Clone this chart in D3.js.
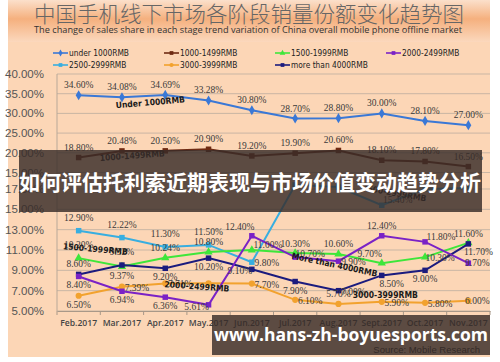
<!DOCTYPE html>
<html>
<head>
<meta charset="utf-8">
<script src="https://cdn.jsdelivr.net/npm/d3@7"></script>
<style>
  body { margin: 0; background: #fff; }
  svg { display: block; }
</style>
</head>
<body>
<svg id="chart" width="500" height="362"></svg>
<script>
"use strict";

// ---- data ----
const months = ["Feb.2017", "Mar.2017", "Apr.2017", "May.2017", "Jun.2017",
                "Jul.2017", "Aug.2017", "Sept.2017", "Oct.2017", "Nov.2017"];

const seriesNames = ["under 1000RMB", "1000-1499RMB", "1500-1999RMB", "2000-2499RMB",
                     "2500-2999RMB", "3000-3999RMB", "more than 4000RMB"];

const under1000 = [34.60, 34.08, 34.69, 33.28, 30.80, 28.70, 28.80, 30.00, 28.10, 27.00];
const p1000 = [18.80, 20.48, 20.50, 20.90, 19.20, 19.90, 20.60, 18.10, 17.80, 16.50];
const p1500 = [10.20, 9.37, 10.24, 10.80, 11.00, 10.70, 10.60, 9.70, 10.30, 11.70];
const p2000 = [8.40, 6.94, 6.36, 5.61, 12.40, 10.30, 9.90, 12.40, 11.80, 9.70];
const p2500 = [12.90, 12.22, 11.30, 11.50, 9.80, 17.40, 17.20, 15.40, 17.00, 17.10];
const p3000 = [6.50, 7.39, 7.71, 7.72, 7.70, 6.10, 5.70, 5.90, 5.80, 6.00];
const p4000 = [8.60, 9.52, 9.20, 10.20, 9.10, 7.90, 7.00, 8.50, 9.00, 11.60];

const topTicks = [40, 35, 30, 25, 20, 15];
const bottomTicks = [17, 15, 13, 11, 9, 7, 5];

// ---- styling ----
const colors = ["#3a78d6", "#6e2a12", "#3ee63a", "#7a22c6", "#38aee0", "#f2a22e", "#1b1b7e"];
const symbols = [d3.symbolDiamond, d3.symbolSquare, d3.symbolTriangle, d3.symbolSquare,
                 d3.symbolSquare, d3.symbolCircle, d3.symbolSquare];

// label placement per point (codes below), "" = hidden by the overlay
const offs = {
    a: [0, -7], A: [0, -10], b: [0, 12], r: [15, 4], l: [-12, 5],
    ru: [16, -2], rb: [10, 12], al: [-12, -6], rs: [9, 3]
};
const labelPos = [
    ["a", "a", "a", "a", "a", "a", "a", "a", "a", "a"],
    ["a", "a", "a", "a", "a", "a", "a", "a", "a", "a"],
    ["A", "b", "a", "a", "ru", "r", "a", "al", "r", "rb"],
    ["b", "b", "b", "l", "al", "A", "r", "a", "ru", "rs"],
    ["A", "A", "A", "A", "r", "", "", "ru", "", ""],
    ["b", "r", "r", "", "r", "r", "a", "r", "r", "rs"],
    ["a", "A", "b", "b", "l", "b", "r", "rb", "b", "a"]
];

// inline series names: [series, month index, dx, dy, rotate, text]
const nameTags = [
    [0, 1, -6, 11, -5, "Under 1000RMB"],
    [1, 1, -22, 10, -4, "1000-1499RMB"],
    [2, 0, -16, -9, 5, "1500-1999RMB"],
    [3, 2, -1, -10, 4, "2000-2499RMB"],
    [6, 5, -4, -23, 12, "More than 4000RMB"],
    [5, 7, -29, -4, 0, "3000-3999RMB"],
    [4, 7, -20, -15, 10, "2500-2999RMB"]
];

const svg = d3.select("#chart");

// ---- background ----
const defs = svg.append("defs");
const grad = defs.append("linearGradient")
    .attr("id", "head").attr("x1", 0).attr("y1", 0).attr("x2", 0).attr("y2", 1);
grad.append("stop").attr("offset", "0%").attr("stop-color", "#fbe0cb");
grad.append("stop").attr("offset", "45%").attr("stop-color", "#f5b07e");
grad.append("stop").attr("offset", "100%").attr("stop-color", "#fbd8bd");

svg.append("rect").attr("x", 8).attr("y", 0).attr("width", 482).attr("height", 357)
    .attr("fill", "#fcd6b6");
svg.append("rect").attr("x", 8).attr("y", 0).attr("width", 482).attr("height", 42)
    .attr("fill", "url(#head)");

svg.append("text")
    .attr("x", 249).attr("y", 22)
    .attr("text-anchor", "middle")
    .style("font-family", "'Noto Sans CJK SC'")
    .style("font-weight", 300)
    .style("font-size", "21.5px")
    .attr("fill", "#666")
    .text("中国手机线下市场各阶段销量份额变化趋势图");

svg.append("text")
    .attr("x", 248).attr("y", 33)
    .attr("text-anchor", "middle")
    .style("font-family", "'Open Sans'")
    .style("font-size", "9.2px")
    .attr("fill", "#333")
    .text("The change of sales share in each stage trend variation of China overall mobile phone offline market");

// ---- legend ----
const legendX = [53, 164, 275, 386];
seriesNames.forEach(function(name, i) {
    let lx = legendX[i % 4];
    let ly = i < 4 ? 53 : 65;
    let g = svg.append("g").attr("transform", "translate(" + lx + "," + ly + ")");
    g.append("line").attr("x1", 0).attr("x2", 15).attr("y1", 0).attr("y2", 0)
        .attr("stroke", colors[i]).attr("stroke-width", 1.6);
    g.append("path").attr("transform", "translate(7.5,0)")
        .attr("d", d3.symbol().type(symbols[i]).size(14)())
        .attr("fill", colors[i]);
    g.append("text").attr("x", 16).attr("y", 3.2)
        .style("font-family", "'DejaVu Sans Condensed', 'DejaVu Sans'")
        .style("font-size", "8.3px")
        .attr("fill", "#222")
        .text(name);
});

// ---- scales ----
const x = d3.scaleBand().domain(months).range([57, 490]);
const cx = m => x(m) + x.bandwidth() / 2;
const yTop = d3.scaleLinear().domain([15, 40]).range([172.5, 74]);
const yBot = d3.scaleLinear().domain([5, 17]).range([311, 189]);

const scaleOf = i => (i < 2 ? yTop : yBot);

// ---- grid and axes ----
const grid = svg.append("g");
function gridLines(ticks, y) {
    grid.selectAll(null).data(ticks).enter().append("line")
        .attr("x1", 57).attr("x2", 490)
        .attr("y1", d => y(d)).attr("y2", d => y(d))
        .attr("stroke", "#c9b6a4").attr("stroke-width", 1);
    grid.selectAll(null).data(ticks).enter().append("text")
        .attr("x", 44).attr("y", d => y(d) + 4)
        .attr("text-anchor", "end")
        .style("font-family", "'Liberation Sans'")
        .style("font-size", "11.5px")
        .attr("fill", "#555")
        .text(d => d.toFixed(2) + "%");
}
gridLines(topTicks, yTop);
gridLines(bottomTicks, yBot);

svg.append("line").attr("x1", 57).attr("x2", 57).attr("y1", 74).attr("y2", 311)
    .attr("stroke", "#b8a898");

const xAxis = svg.append("g")
    .attr("transform", "translate(0,311)")
    .call(d3.axisBottom(x).tickSize(0).tickPadding(9));
xAxis.select(".domain").attr("stroke", "#a89888");
xAxis.selectAll("text")
    .style("font-family", "'Open Sans'")
    .style("font-size", "8.6px")
    .style("font-weight", 600)
    .attr("fill", "#444");
xAxis.selectAll(null).data(months.concat(["end"])).enter().append("line")
    .attr("x1", (d, i) => 57 + i * x.bandwidth())
    .attr("x2", (d, i) => 57 + i * x.bandwidth())
    .attr("y1", 0).attr("y2", 4)
    .attr("stroke", "#a89888");

// ---- lines ----
const allSeries = [under1000, p1000, p1500, p2000, p2500, p3000, p4000];
const drawOrder = [0, 1, 4, 5, 2, 6, 3];

drawOrder.forEach(function(i) {
    let vals = allSeries[i];
    let y = scaleOf(i);
    let line = d3.line().x((d, k) => cx(months[k])).y(d => y(d));
    svg.append("path").datum(vals)
        .attr("d", line)
        .attr("fill", "none")
        .attr("stroke", colors[i])
        .attr("stroke-width", 2);
    svg.selectAll(null).data(vals).enter().append("path")
        .attr("transform", (d, k) => "translate(" + cx(months[k]) + "," + y(d) + ")")
        .attr("d", d3.symbol().type(symbols[i]).size(30)())
        .attr("fill", colors[i]);
});

// ---- value labels ----
allSeries.forEach(function(vals, i) {
    let y = scaleOf(i);
    let pts = vals.map((v, k) => ({ v: v, m: months[k], pos: labelPos[i][k] }))
        .filter(p => p.pos !== "");
    svg.selectAll(null).data(pts).enter().append("text")
        .attr("x", p => cx(p.m) + offs[p.pos][0])
        .attr("y", p => y(p.v) + offs[p.pos][1])
        .attr("text-anchor", "middle")
        .style("font-family", "'Liberation Serif', serif")
        .style("font-size", "9.5px")
        .attr("fill", "#3a3a3a")
        .text(p => p.v.toFixed(2) + "%");
});

// ---- inline series names ----
nameTags.forEach(function(t) {
    let px = cx(months[t[1]]) + t[2];
    let py = scaleOf(t[0])(allSeries[t[0]][t[1]]) + t[3];
    svg.append("text")
        .attr("transform", "translate(" + px + "," + py + ") rotate(" + t[4] + ")")
        .style("font-family", "'DejaVu Sans Condensed', 'DejaVu Sans'")
        .style("font-weight", "bold")
        .style("font-size", "8.5px")
        .attr("fill", "#1a1a1a")
        .text(t[5]);
});

// ---- overlay banners ----
svg.append("rect").attr("x", 19).attr("y", 150).attr("width", 463).attr("height", 62)
    .attr("fill", "#382c28").attr("fill-opacity", 0.82);
svg.append("text")
    .attr("x", 250).attr("y", 190)
    .attr("text-anchor", "middle")
    .style("font-family", "'Noto Sans CJK SC'")
    .style("font-weight", "bold")
    .style("font-size", "21px")
    .attr("fill", "#fff")
    .text("如何评估托利索近期表现与市场价值变动趋势分析");

svg.append("text")
    .attr("x", 480).attr("y", 353)
    .attr("text-anchor", "end")
    .style("font-family", "'Liberation Sans'")
    .style("font-size", "9.5px")
    .attr("fill", "#222")
    .text("Source: Mobile Research");
svg.append("rect").attr("x", 212).attr("y", 315).attr("width", 278).attr("height", 40)
    .attr("fill", "#382c28").attr("fill-opacity", 0.82);
svg.append("text")
    .attr("x", 351).attr("y", 341)
    .attr("text-anchor", "middle")
    .style("font-family", "'Open Sans'")
    .style("font-weight", "bold")
    .style("font-size", "17.5px")
    .attr("fill", "#fff")
    .text("www.hans-zh-boyuesports.com");
</script>
</body>
</html>
